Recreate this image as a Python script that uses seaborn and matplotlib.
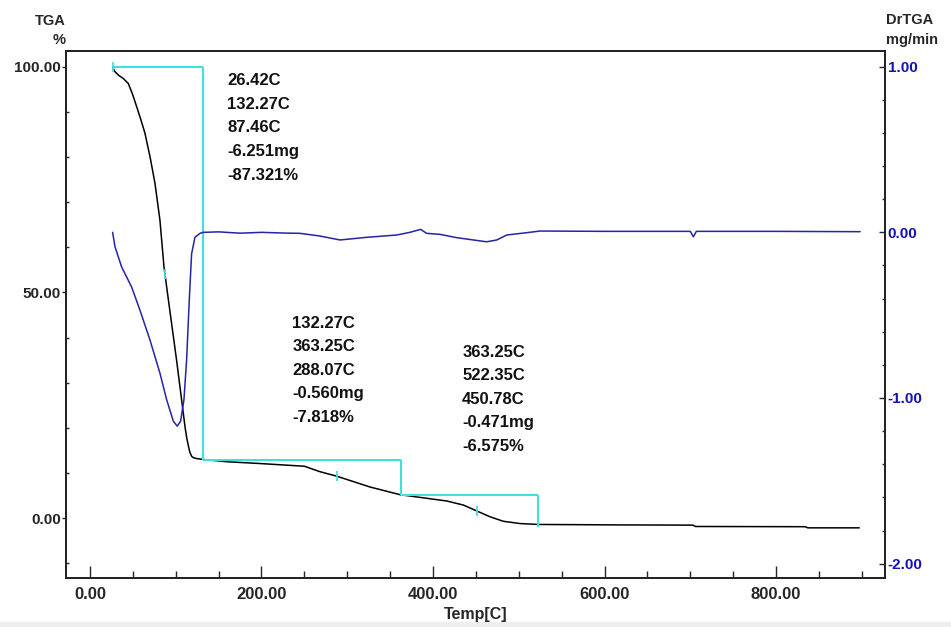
import numpy as np
import matplotlib
matplotlib.use("Agg")
import matplotlib.pyplot as plt
from matplotlib.ticker import MultipleLocator, FormatStrFormatter
import seaborn as sns

# TGA curve (%)
temp_tga = [26.4, 29.2, 33.5, 38.9, 44.7, 49.5, 54.4, 59.0, 64.1, 70.0, 75.8, 81.6, 86.3,
            91.0, 96.0, 101.0, 107.0, 111.0, 113.0, 115.0, 116.5, 118.6, 120.5, 124.4,
            132.3, 159.4, 198.0, 250.0, 268.0, 287.7, 326.5, 361.5, 384.8, 416.0,
            435.4, 450.9, 466.5, 482.0, 501.5, 522.8, 618.0, 703.0, 706.0, 834.0,
            837.0, 897.0]
tga = [99.9, 98.9, 98.1, 97.4, 96.3, 94.0, 91.2, 88.5, 85.3, 80.1, 74.2, 66.0, 55.7,
       49.0, 42.0, 35.0, 26.0, 20.0, 17.6, 15.8, 14.6, 13.7, 13.4, 13.2,
       13.0, 12.5, 12.1, 11.5, 10.3, 9.3, 6.9, 5.2, 4.6, 3.8,
       2.9, 1.6, 0.3, -0.7, -1.2, -1.4, -1.5, -1.55, -1.85, -1.9,
       -2.15, -2.15]

# DrTGA curve (mg/min)
temp_dr = [26.4, 29.2, 37.0, 48.6, 58.3, 70.0, 81.6, 89.4, 97.2, 101.8, 105.7, 109.6,
           112.7, 115.8, 118.5, 122.4, 128.3, 132.0, 150.0, 175.0, 200.0, 225.0,
           245.0, 268.0, 291.5, 322.7, 357.7, 373.0, 385.6, 392.5, 408.0, 427.6,
           447.0, 462.6, 474.3, 486.0, 509.3, 524.8, 600.0, 700.0, 703.6, 707.0,
           800.0, 898.0]
drtga = [0.0, -0.087, -0.21, -0.33, -0.47, -0.65, -0.85, -1.01, -1.14, -1.17, -1.14, -1.01,
         -0.77, -0.41, -0.13, -0.03, -0.006, 0.0, 0.003, -0.005, 0.0, -0.004,
         -0.006, -0.022, -0.046, -0.03, -0.016, 0.0, 0.018, -0.006, -0.012, -0.032,
         -0.046, -0.057, -0.046, -0.016, -0.002, 0.008, 0.006, 0.006, -0.027, 0.006,
         0.006, 0.004]

# weight-loss steps
step_start = [26.42, 132.27, 363.25]
step_end = [132.27, 363.25, 522.35]
step_top = [100.0, 12.9, 5.1]
step_bottom = [12.9, 5.1, -1.9]
mark_temp = [26.42, 87.46, 288.07, 450.78]

step_labels = [
    ["26.42C", "132.27C", "87.46C", "-6.251mg", "-87.321%"],
    ["132.27C", "363.25C", "288.07C", "-0.560mg", "-7.818%"],
    ["363.25C", "522.35C", "450.78C", "-0.471mg", "-6.575%"],
]
label_pos = [(160, 96.9), (236, 43.2), (434, 36.8)]

sns.set_theme(style="white")
plt.rcParams['font.family'] = ['Liberation Sans', 'DejaVu Sans']
plt.rcParams['font.weight'] = 'bold'

cyan = "#40E0E0"
blue = "#2424A8"
tick_blue = "#1414B4"

fig = plt.figure(figsize=(9.51, 6.27), dpi=100)
fig.patch.set_facecolor("white")
ax = fig.add_axes([0.0697, 0.0786, 0.8609, 0.8401])
ax2 = ax.twinx()

sns.lineplot(x=temp_tga, y=tga, ax=ax, color="black", lw=1.1, estimator=None, sort=False)
sns.lineplot(x=temp_dr, y=drtga, ax=ax2, color=blue, lw=1.1, estimator=None, sort=False)

for s, e, t, b in zip(step_start, step_end, step_top, step_bottom):
    ax.hlines(t, s, e, color=cyan, lw=1.5)
    ax.vlines(e, b, t, color=cyan, lw=1.5)
ax.plot(mark_temp, np.interp(mark_temp, temp_tga, tga), ls="none", marker="|",
        markersize=7, color=cyan, mew=1.3)

for lines, (x0, y0) in zip(step_labels, label_pos):
    for i, s in enumerate(lines):
        ax.annotate(s, (x0, y0), xytext=(0, -i * 17), textcoords="offset points",
                    ha="left", va="center", fontsize=12, fontweight="bold", color="#111111")

ax.set_xlim(-27.6, 927)
ax.set_ylim(-13.2, 103.5)
ax2.set_ylim(-2.085, 1.095)

ax.xaxis.set_major_locator(MultipleLocator(200))
ax.xaxis.set_minor_locator(MultipleLocator(50))
ax.yaxis.set_major_locator(MultipleLocator(50))
ax.yaxis.set_minor_locator(MultipleLocator(10))
ax2.yaxis.set_major_locator(MultipleLocator(1))
ax2.yaxis.set_minor_locator(MultipleLocator(0.2))
ax.xaxis.set_major_formatter(FormatStrFormatter("%.2f"))
ax.yaxis.set_major_formatter(FormatStrFormatter("%.2f"))
ax2.yaxis.set_major_formatter(FormatStrFormatter("%.2f"))

ax.tick_params(axis="x", which="major", direction="in", length=9, width=1, pad=7,
               labelsize=12, bottom=True)
ax.tick_params(axis="x", which="minor", direction="in", length=5, width=1, bottom=True)
ax.tick_params(axis="y", which="major", direction="out", length=3, width=1, pad=1,
               labelsize=11, left=True)
ax.tick_params(axis="y", which="minor", direction="in", length=2, width=1, left=True)
ax2.tick_params(axis="y", which="major", direction="in", length=4, width=1, pad=2,
                labelsize=11, labelcolor=tick_blue, right=True)
ax2.tick_params(axis="y", which="minor", direction="in", length=2, width=1, right=True)
for lab in ax.get_xticklabels() + ax.get_yticklabels() + ax2.get_yticklabels():
    lab.set_fontweight("bold")

for a in (ax, ax2):
    for sp in a.spines.values():
        sp.set_color("#222222")
        sp.set_linewidth(1.3)
ax.grid(False)
ax2.grid(False)
ax.set_ylabel("")
ax2.set_ylabel("")
ax.set_xlabel("Temp[C]", fontsize=11.5, fontweight="bold", labelpad=3)

fig.text(66 / 951, 1 - 21 / 627, "TGA", ha="right", va="center", fontsize=10.5, fontweight="bold")
fig.text(66 / 951, 1 - 40 / 627, "%", ha="right", va="center", fontsize=10.5, fontweight="bold")
fig.text(886 / 951, 1 - 20 / 627, "DrTGA", ha="left", va="center", fontsize=10.5, fontweight="bold")
fig.text(886 / 951, 1 - 40 / 627, "mg/min", ha="left", va="center", fontsize=10.5, fontweight="bold")

fig.patches.append(plt.Rectangle((0, 0), 1, 5 / 627, transform=fig.transFigure,
                                 color="#EEEEEE", zorder=-1))

fig.savefig("out.png", dpi=100, facecolor="white")
